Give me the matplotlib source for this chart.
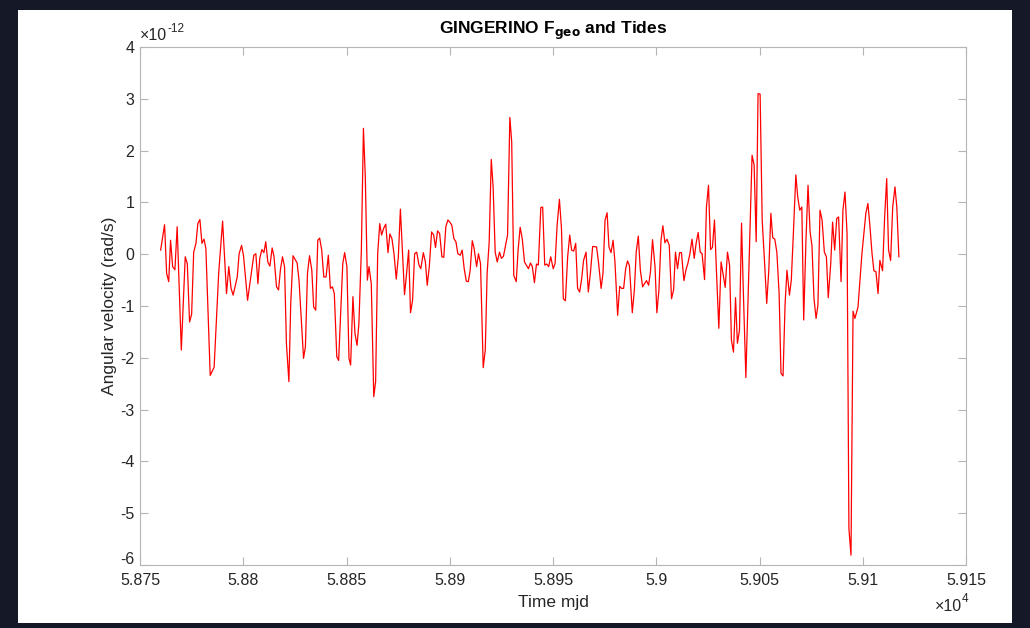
import numpy as np
import matplotlib
matplotlib.use("Agg")
import matplotlib.pyplot as plt
from matplotlib.patches import Rectangle
from matplotlib.ticker import FuncFormatter
from matplotlib.transforms import ScaledTranslation

plt.rcParams['font.family'] = ['Liberation Sans', 'DejaVu Sans']

# Tempo (MJD) e velocidade angular (unidade de 1e-12 rad/s)
mjd = [
    58760.0, 58761.9, 58762.9, 58763.9, 58764.8, 58765.8, 58766.9, 58768.0, 58770.0, 58771.9,
    58772.9, 58774.0, 58775.0, 58776.0, 58777.1, 58778.0, 58779.0, 58780.0, 58781.0, 58781.9,
    58784.0, 58785.9, 58788.1, 58790.0, 58791.9, 58793.0, 58794.1, 58795.1, 58797.1, 58798.0,
    58799.2, 58800.1, 58802.1, 58803.0,
    58805.1, 58806.1, 58807.1, 58808.0, 58809.0, 58810.0, 58810.9, 58811.9, 58812.9, 58814.0,
    58814.9, 58816.1, 58817.1, 58818.0, 58819.0, 58820.0, 58820.9, 58822.1, 58823.0, 58824.1,
    58825.1, 58826.1, 58827.0, 58828.2, 58829.2, 58830.1, 58831.1, 58832.1, 58833.2, 58834.1,
    58835.1, 58836.1, 58837.0, 58838.0, 58839.0, 58840.1, 58841.2, 58842.2, 58843.2, 58844.1,
    58845.3, 58846.2, 58848.2, 58849.1,
    58850.2, 58851.2, 58852.0, 58853.1, 58854.1, 58855.1, 58856.0, 58857.2, 58858.2, 58859.1,
    58860.1, 58860.9, 58862.0, 58863.2, 58864.1, 58865.1, 58866.1, 58867.0, 58868.0, 58869.0,
    58870.1, 58871.0, 58872.0, 58873.0, 58874.1, 58875.1, 58876.1, 58877.0, 58878.1, 58879.1,
    58880.1, 58881.0, 58882.0, 58883.0, 58884.0, 58885.1, 58886.0, 58887.2, 58888.2, 58889.1,
    58890.1, 58891.2, 58892.2, 58893.1, 58894.1, 58895.1,
    58896.2, 58897.1, 58898.1, 58899.1, 58900.0, 58901.0, 58902.0, 58903.0, 58903.9, 58905.1,
    58906.0, 58907.0, 58908.0, 58909.0, 58909.9, 58910.9, 58911.8, 58913.0, 58913.9, 58914.9,
    58916.2, 58917.2, 58918.1, 58919.1, 58920.1, 58921.0, 58922.0, 58923.0, 58924.1, 58925.0,
    58926.0, 58927.0, 58928.0, 58929.1, 58930.0, 58931.0, 58932.2, 58933.1, 58934.1, 58935.1,
    58936.2, 58937.1, 58938.1, 58939.1, 58940.0, 58941.0,
    58942.0, 58942.9, 58944.1, 58945.0, 58946.0, 58947.0, 58947.9, 58948.9, 58950.1, 58951.0,
    58952.0, 58953.1, 58954.1, 58955.0, 58956.0, 58957.1, 58958.1, 58959.0, 58960.0, 58961.0,
    58961.9, 58962.9, 58963.9, 58964.8, 58966.0, 58967.1, 58968.1, 58969.2, 58971.1, 58972.1,
    58973.3, 58974.2, 58975.2, 58976.2, 58977.1, 58978.1, 58979.1, 58980.0, 58981.3, 58982.3,
    58983.2, 58984.2, 58985.2, 58986.1, 58987.0,
    58988.4, 58989.4, 58990.3, 58991.3, 58992.3, 58993.4, 58994.3, 58995.3, 58996.3, 58997.2,
    58998.2, 58999.4, 59000.3, 59001.3, 59002.3, 59003.2, 59004.2, 59005.2, 59006.3, 59007.4,
    59008.4, 59009.3, 59010.3, 59011.3, 59012.2, 59013.4, 59014.4, 59015.3, 59016.3, 59017.3,
    59018.4, 59019.3, 59020.3, 59021.3, 59022.2, 59023.4, 59024.3, 59025.3, 59026.3, 59027.2,
    59028.2, 59029.2, 59030.3, 59031.4,
    59033.4, 59034.5, 59035.5, 59036.4, 59037.4, 59038.4, 59039.3, 59040.3, 59041.3, 59042.2,
    59043.4, 59046.4, 59047.4, 59048.4, 59049.3, 59050.3, 59051.3, 59052.4, 59053.5, 59054.5,
    59055.5, 59056.4, 59057.4, 59058.4, 59059.5, 59060.4, 59061.4, 59062.4, 59063.3, 59064.5,
    59065.4, 59066.4, 59067.6, 59068.5, 59069.5, 59070.5, 59071.4, 59072.5, 59073.5, 59074.5,
    59075.4, 59076.4, 59077.4, 59078.3, 59079.3, 59080.3, 59081.4, 59082.4, 59083.3, 59084.5,
    59085.4, 59086.4, 59087.4, 59088.3, 59089.5, 59090.4, 59091.4, 59092.4, 59093.3, 59094.3,
    59095.3, 59096.2, 59097.7, 59099.6, 59101.5, 59102.5, 59103.5, 59104.5, 59105.4, 59106.4,
    59107.4, 59108.3, 59109.6, 59110.6, 59111.6, 59112.5, 59113.5, 59114.5, 59115.6, 59116.5,
    59117.5,
]
omega = [
    0.08, 0.57, -0.37, -0.53, 0.27, -0.24, -0.30, 0.53, -1.85, -0.05,
    -0.18, -1.31, -1.16, 0.04, 0.21, 0.59, 0.67, 0.21, 0.29, 0.11,
    -2.34, -2.18, -0.37, 0.64, -0.76, -0.24, -0.66, -0.79, -0.44, 0.01,
    0.17, -0.02, -0.89, -0.63,
    -0.02, 0.01, -0.57, -0.08, 0.09, 0.03, 0.24, -0.15, -0.23, 0.12,
    -0.05, -0.63, -0.69, -0.30, -0.05, -0.24, -1.72, -2.46, -0.95, -0.03,
    -0.10, -0.17, -0.50, -1.34, -2.01, -1.79, -0.37, -0.03, -0.31, -1.02,
    -1.08, 0.27, 0.31, 0.08, -0.44, -0.44, -0.02, -0.66, -0.63, -0.76,
    -1.98, -2.05, -0.18, 0.03,
    -0.24, -2.01, -2.14, -0.82, -1.53, -1.76, -1.34, 0.08, 2.43, 1.49,
    -0.50, -0.24, -0.57, -2.75, -2.46, 0.01, 0.59, 0.37, 0.50, 0.58,
    0.03, 0.39, 0.30, 0.01, -0.48, -0.05, 0.87, 0.14, -0.78, -0.37,
    0.08, -1.13, -0.89, 0.01, 0.04, -0.21, -0.28, 0.03, -0.15, -0.60,
    -0.24, 0.43, 0.37, 0.13, 0.45, 0.40,
    -0.05, -0.06, 0.53, 0.66, 0.62, 0.56, 0.30, 0.24, 0.01, -0.02,
    0.08, -0.28, -0.52, -0.53, -0.31, 0.26, 0.11, -0.24, 0.01, -0.18,
    -2.19, -1.85, -0.37, 0.24, 1.83, 1.30, 0.04, -0.15, 0.04, -0.08,
    -0.04, 0.17, 0.37, 2.64, 2.17, -0.41, -0.53, 0.08, 0.52, 0.30,
    -0.15, -0.21, -0.28, -0.17, -0.24, -0.55,
    -0.19, -0.21, 0.90, 0.91, -0.21, -0.19, -0.24, -0.05, -0.28, -0.18,
    0.56, 1.06, 0.50, -0.86, -0.90, -0.05, 0.37, 0.08, 0.06, 0.21,
    -0.66, -0.73, -0.47, -0.12, 0.04, -0.73, -0.37, 0.15, 0.14, -0.18,
    -0.66, -0.37, 0.66, 0.80, 0.14, 0.03, 0.27, -0.15, -1.18, -0.62,
    -0.66, -0.66, -0.28, -0.13, -0.22,
    -1.13, -0.69, 0.04, 0.35, -0.31, -0.63, -0.57, -0.51, -0.60, -0.34,
    0.28, -0.24, -1.13, -0.69, 0.27, 0.55, 0.22, 0.29, 0.17, -0.86,
    -0.69, 0.04, -0.28, 0.03, 0.03, -0.51, -0.30, -0.18, 0.01, 0.29,
    -0.08, 0.21, 0.42, 0.04, 0.01, -0.49, 0.91, 1.33, 0.09, 0.13,
    0.66, -0.37, -1.43, -0.15,
    -0.64, 0.04, -0.21, -1.66, -1.89, -0.84, -1.72, -1.47, 0.60, -0.76,
    -2.38, 1.91, 1.72, 0.24, 3.10, 3.09, 0.66, -0.12, -0.95, -0.31,
    0.79, 0.32, 0.29, 0.04, -0.76, -2.30, -2.35, -0.95, -0.31, -0.79,
    -0.50, 0.40, 1.53, 1.11, 0.85, 0.91, -1.27, 0.27, 1.33, 0.43,
    0.17, -0.86, -1.24, -0.98, 0.85, 0.66, 0.04, -0.05, -0.84, -0.18,
    0.62, 0.08, 0.69, 0.72, -0.53, 0.85, 1.20, 0.40, -5.30, -5.81,
    -1.10, -1.24, -1.02, 0.01, 0.79, 0.98, 0.53, 0.01, -0.32, -0.34,
    -0.76, -0.12, -0.32, 0.72, 1.46, 0.08, -0.12, 0.91, 1.30, 0.91,
    -0.05,
]

x_ticks = [58750, 58800, 58850, 58900, 58950, 59000, 59050, 59100, 59150]
y_ticks = [-6, -5, -4, -3, -2, -1, 0, 1, 2, 3, 4]
scale_y = 1e-12

fig = plt.figure(figsize=(10.30, 6.28), dpi=100, facecolor='#151827')
# painel branco da janela (atrás dos eixos)
fig.patches.append(Rectangle((18 / 1030, 1 - 623 / 628), 994 / 1030, 613 / 628,
                             transform=fig.transFigure, facecolor='white',
                             edgecolor='none', zorder=-10))

ax = fig.add_axes([140 / 1030, 1 - 565 / 628, 826 / 1030, 518 / 628])
ax.set_zorder(5)
ax.set_facecolor('white')
ax.plot(mjd, np.array(omega) * scale_y, color='red', lw=0.9)

ax.set_xlim(x_ticks[0], x_ticks[-1])
ax.set_ylim(y_ticks[0] * scale_y, y_ticks[-1] * scale_y)
ax.set_xticks(x_ticks)
ax.set_yticks([v * scale_y for v in y_ticks])
ax.xaxis.set_major_formatter(FuncFormatter(lambda v, p: f"{v / 1e4:g}"))
ax.yaxis.set_major_formatter(FuncFormatter(lambda v, p: f"{round(v / scale_y):d}"))

grey = '#262626'
for s in ax.spines.values():
    s.set_color('#b5b5b5')
    s.set_linewidth(0.8)
ax.tick_params(direction='in', length=6, width=0.8, color='#b5b5b5',
               labelsize=11.5, labelcolor=grey, top=True, right=True)
ax.tick_params(axis='x', pad=6)
ax.tick_params(axis='y', pad=4)

# rótulo do canto (-6) sobe um pouco para não colidir com o eixo x
fig.canvas.draw()
lbl = ax.yaxis.get_majorticklabels()[0]
lbl.set_transform(lbl.get_transform() + ScaledTranslation(0, 7 / 100, fig.dpi_scale_trans))

ax.set_xlabel('Time mjd', fontsize=12.5, color=grey, labelpad=5)
ax.set_ylabel('Angular velocity (rad/s)', fontsize=12.5, color=grey, labelpad=2)
ax.set_title('GINGERINO F$_{\\mathbf{geo}}$ and Tides', fontsize=12.5, fontweight='bold',
             color='black', pad=9)

# multiplicadores de escala dos eixos
t_y = ax.text(0.0, 1.008, '\u00d710', transform=ax.transAxes, fontsize=11.5,
              color=grey, ha='left', va='bottom')
ax.annotate('-12', xy=(1, 0.55), xycoords=t_y, fontsize=8.5, color=grey,
            ha='left', va='bottom')
t_x = ax.text(0.995, -0.065, '\u00d710', transform=ax.transAxes, fontsize=11.5,
              color=grey, ha='right', va='top')
ax.annotate('4', xy=(1, 0.55), xycoords=t_x, fontsize=8.5, color=grey,
            ha='left', va='bottom')

fig.savefig('out.png', dpi=100, facecolor=fig.get_facecolor())
